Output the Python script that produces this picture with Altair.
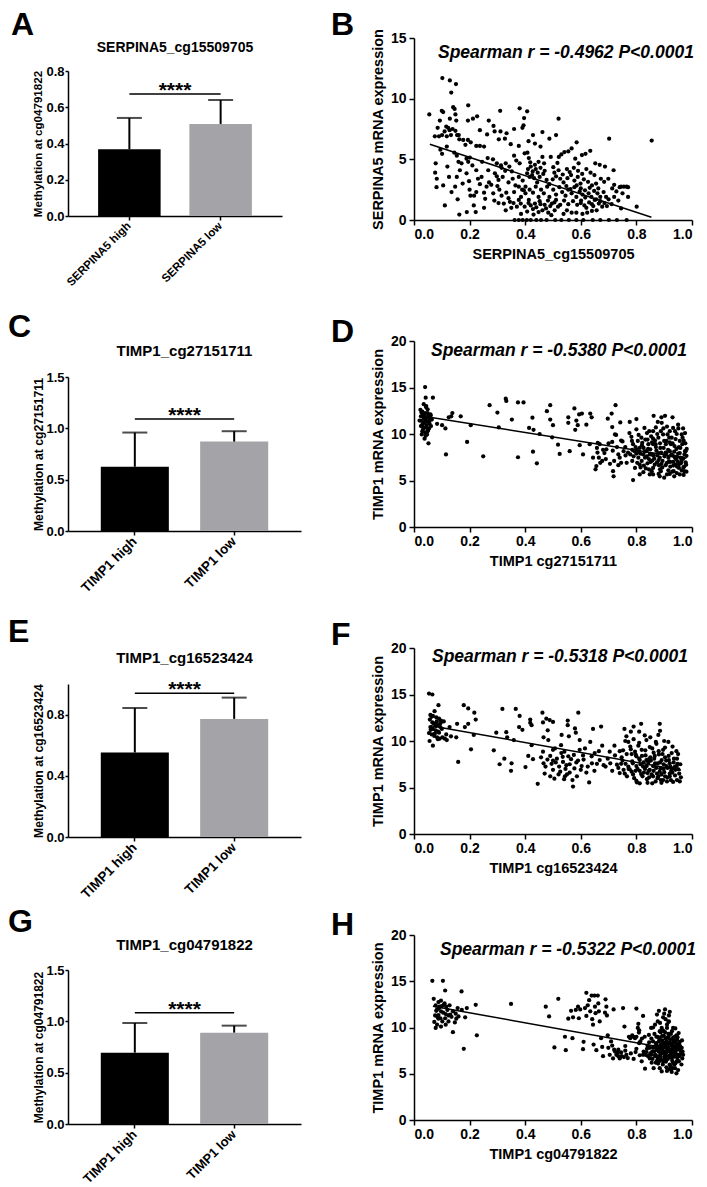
import altair as alt
import pandas as pd

FONT = "Liberation Sans"

# ---------------- bar panels (A, C, E, G) ----------------
A_cats = ["SERPINA5 high", "SERPINA5 low"]
A_means = [0.368, 0.508]
A_upper = [0.541, 0.640]
A_sig = 0.673
A_ticks = [0.0, 0.2, 0.4, 0.6, 0.8]

C_cats = ["TIMP1 high", "TIMP1 low"]
C_means = [0.626, 0.871]
C_upper = [0.959, 0.972]
C_sig = 1.092
C_ticks = [0.0, 0.5, 1.0, 1.5]

E_cats = ["TIMP1 high", "TIMP1 low"]
E_means = [0.552, 0.772]
E_upper = [0.843, 0.911]
E_sig = 0.939
E_ticks = [0.0, 0.2, 0.4, 0.6, 0.8, 1.0]

G_cats = ["TIMP1 high", "TIMP1 low"]
G_means = [0.695, 0.890]
G_upper = [0.984, 0.958]
G_sig = 1.084
G_ticks = [0.0, 0.5, 1.0, 1.5]

BAR_COLORS = ["#000000", "#a4a4a8"]

# ---------------- scatter panels (B, D, F, H) ----------------
B_points = [
    (0.102, 11.7), (0.129, 11.5), (0.151, 11.2), (0.134, 10.5), (0.055, 8.7), (0.100, 9.0), (0.105, 8.9),
    (0.195, 9.45), (0.141, 9.3), (0.146, 9.15), (0.310, 9.0), (0.380, 9.2), (0.407, 8.96), (0.396, 8.4),
    (0.520, 8.35), (0.093, 8.2), (0.129, 8.35), (0.194, 8.2), (0.212, 8.35), (0.227, 8.55), (0.269, 8.2),
    (0.286, 7.75), (0.149, 8.7), (0.152, 8.2), (0.085, 7.6), (0.116, 7.7), (0.123, 7.6), (0.128, 7.4),
    (0.139, 7.5), (0.110, 7.3), (0.149, 7.35), (0.090, 6.9), (0.075, 6.9), (0.101, 7.0), (0.118, 6.9),
    (0.133, 7.0), (0.155, 7.0), (0.161, 7.0), (0.237, 7.4), (0.263, 7.05), (0.290, 7.3), (0.311, 7.3),
    (0.333, 7.15), (0.360, 7.5), (0.390, 7.6), (0.394, 7.8), (0.428, 7.0), (0.462, 7.25), (0.511, 7.0),
    (0.487, 6.7), (0.585, 6.4), (0.702, 6.7), (0.855, 6.55), (0.163, 6.65), (0.177, 6.6), (0.194, 6.6),
    (0.204, 6.4), (0.185, 6.2), (0.224, 6.1), (0.237, 6.1), (0.252, 6.05), (0.305, 6.65), (0.327, 6.7),
    (0.348, 6.25), (0.377, 6.1), (0.412, 6.5), (0.435, 6.3), (0.455, 6.05), (0.095, 5.8), (0.101, 5.45),
    (0.118, 6.05), (0.145, 5.55), (0.154, 5.3), (0.189, 5.05), (0.195, 4.8), (0.201, 5.15), (0.160, 4.8),
    (0.171, 4.67), (0.078, 4.67), (0.265, 5.1), (0.284, 5.0), (0.298, 4.67), (0.313, 4.5), (0.330, 4.67),
    (0.343, 4.4), (0.360, 5.3), (0.368, 4.9), (0.380, 4.67), (0.398, 5.5), (0.408, 5.55), (0.413, 5.1),
    (0.418, 4.75), (0.420, 4.4), (0.427, 4.0), (0.438, 4.2), (0.448, 4.8), (0.462, 5.2), (0.468, 4.67),
    (0.492, 5.2), (0.501, 4.35), (0.516, 4.7), (0.521, 5.2), (0.530, 5.4), (0.541, 5.6), (0.555, 5.65),
    (0.567, 5.9), (0.580, 5.05), (0.592, 4.67), (0.604, 5.35), (0.617, 5.45), (0.634, 5.7), (0.652, 4.67),
    (0.668, 4.55), (0.649, 3.7), (0.076, 3.9), (0.082, 3.4), (0.081, 2.7), (0.105, 2.85), (0.148, 2.75),
    (0.126, 3.55), (0.154, 3.55), (0.165, 4.1), (0.189, 3.85), (0.198, 3.2), (0.200, 2.5), (0.203, 2.0),
    (0.216, 2.0), (0.224, 2.3), (0.157, 1.7), (0.111, 1.2), (0.163, 0.45), (0.190, 0.65), (0.222, 0.65),
    (0.215, 1.2), (0.252, 1.0), (0.256, 1.75), (0.252, 2.25), (0.261, 2.75), (0.278, 2.9), (0.298, 3.6),
    (0.319, 3.55), (0.289, 1.6), (0.304, 1.4), (0.323, 1.35), (0.340, 1.8), (0.307, 2.5), (0.332, 2.25),
    (0.340, 3.1), (0.355, 3.4), (0.365, 2.85), (0.350, 1.0), (0.358, 1.4), (0.377, 1.65), (0.385, 1.9),
    (0.401, 2.2), (0.398, 1.1), (0.407, 0.7), (0.420, 1.2), (0.428, 0.9), (0.448, 0.65), (0.462, 0.8),
    (0.483, 0.6), (0.494, 0.4), (0.506, 0.8), (0.518, 1.1), (0.538, 0.5), (0.550, 0.8), (0.567, 0.6),
    (0.584, 0.6), (0.606, 0.5), (0.623, 0.6), (0.640, 0.75), (0.657, 0.8), (0.677, 1.1), (0.694, 1.15),
    (0.711, 1.3), (0.745, 0.95), (0.801, 1.1),
    (0.362, 0.0), (0.377, 0.0), (0.391, 0.0), (0.406, 0.0), (0.420, 0.0), (0.440, 0.0), (0.457, 0.0),
    (0.477, 0.0), (0.508, 0.0), (0.530, 0.0), (0.557, 0.0), (0.584, 0.0), (0.609, 0.0), (0.643, 0.0),
    (0.670, 0.0), (0.701, 0.0), (0.730, 0.0), (0.765, 0.0),
    (0.377, 3.55), (0.391, 3.25), (0.407, 3.85), (0.416, 3.55), (0.432, 3.45), (0.443, 3.1), (0.452, 3.55),
    (0.465, 3.8), (0.477, 3.3), (0.487, 2.95), (0.499, 3.35), (0.511, 3.6), (0.526, 3.4), (0.538, 3.1),
    (0.552, 3.45), (0.565, 3.7), (0.577, 3.25), (0.589, 3.55), (0.599, 3.0), (0.611, 3.35), (0.626, 3.15),
    (0.640, 2.85), (0.655, 3.0), (0.672, 3.4), (0.684, 3.15), (0.699, 3.4), (0.713, 2.6), (0.728, 2.35),
    (0.745, 2.75), (0.755, 2.75), (0.765, 2.75), (0.377, 2.75), (0.389, 2.5), (0.401, 2.75), (0.416, 2.5),
    (0.428, 2.25), (0.438, 2.75), (0.448, 1.9), (0.457, 2.5), (0.467, 2.2), (0.479, 2.75), (0.487, 1.9),
    (0.501, 2.5), (0.511, 2.1), (0.523, 2.7), (0.533, 2.3), (0.545, 2.0), (0.555, 2.5), (0.567, 2.2),
    (0.577, 2.7), (0.584, 1.9), (0.596, 2.35), (0.606, 2.1), (0.616, 1.85), (0.628, 2.2), (0.638, 1.9),
    (0.650, 1.65), (0.660, 2.2), (0.670, 1.9), (0.682, 2.3), (0.691, 1.9), (0.384, 1.35), (0.413, 1.65),
    (0.435, 1.35), (0.452, 1.55), (0.470, 1.25), (0.482, 1.6), (0.496, 1.35), (0.511, 1.65), (0.526, 1.25),
    (0.540, 1.6), (0.555, 1.3), (0.572, 1.55), (0.587, 1.25), (0.601, 1.6), (0.613, 1.2), (0.630, 1.45),
    (0.645, 1.15), (0.665, 1.35), (0.267, 4.1), (0.291, 3.85), (0.328, 4.05), (0.304, 3.3), (0.352, 4.0),
    (0.243, 3.55), (0.224, 4.1), (0.237, 2.95), (0.687, 4.4), (0.718, 4.1),
    (0.410, 4.2), (0.425, 3.7), (0.435, 4.55), (0.445, 3.9), (0.455, 4.3), (0.470, 4.05), (0.505, 3.9),
    (0.520, 4.1), (0.535, 3.75), (0.550, 4.2), (0.560, 3.95), (0.575, 4.3), (0.590, 4.05), (0.605, 3.8),
    (0.620, 4.2), (0.635, 3.9), (0.548, 2.8), (0.563, 2.55), (0.585, 2.85), (0.600, 2.6), (0.615, 2.45),
    (0.632, 2.65), (0.648, 2.4), (0.663, 2.6), (0.600, 1.4), (0.620, 1.0), (0.640, 1.3), (0.655, 1.7),
    (0.670, 1.55), (0.685, 1.4), (0.700, 1.7), (0.720, 1.9), (0.315, 2.0), (0.330, 0.8), (0.345, 1.5),
    (0.360, 2.3), (0.370, 1.1), (0.385, 0.5), (0.395, 2.45), (0.412, 1.4), (0.430, 0.45), (0.440, 1.05),
    (0.455, 1.3), (0.475, 0.95), (0.490, 1.15), (0.505, 1.45), (0.120, 4.4), (0.135, 2.3), (0.175, 3.0),
    (0.210, 4.5), (0.230, 3.4), (0.245, 4.8), (0.270, 3.1), (0.285, 2.2), (0.300, 2.8), (0.315, 4.3),
    (0.720, 2.9), (0.735, 1.6), (0.750, 2.2), (0.770, 1.9), (0.740, 2.7), (0.770, 2.7),
]
B_line_x = [0.057, 0.854]
B_line_y = [6.25, 0.22]

D_points = [
    (0.040, 15.05), (0.042, 13.9), (0.068, 13.9), (0.035, 13.2), (0.044, 13.0), (0.023, 12.6), (0.030, 12.4),
    (0.040, 12.25), (0.049, 12.25), (0.059, 12.1), (0.025, 11.9), (0.035, 11.75), (0.044, 11.7), (0.054, 11.8),
    (0.064, 11.55), (0.028, 11.4), (0.037, 11.2), (0.047, 11.3), (0.056, 11.1), (0.025, 10.85), (0.035, 10.65),
    (0.044, 10.75), (0.054, 10.6), (0.030, 10.3), (0.040, 10.15), (0.049, 10.3), (0.028, 9.95), (0.042, 9.8),
    (0.038, 9.5), (0.052, 9.0), (0.032, 12.1), (0.049, 12.65), (0.020, 11.45), (0.061, 10.85), (0.047, 9.95),
    (0.030, 11.0), (0.036, 12.0), (0.041, 11.4), (0.045, 10.9), (0.050, 11.9), (0.055, 11.4), (0.060, 12.0),
    (0.033, 10.5), (0.043, 12.9), (0.050, 10.4), (0.038, 11.7), (0.027, 12.3),
    (0.083, 11.1), (0.101, 10.95), (0.113, 10.6), (0.125, 11.8), (0.138, 12.25), (0.134, 11.9), (0.115, 7.8),
    (0.168, 11.9), (0.191, 9.15), (0.204, 10.95), (0.249, 7.6), (0.272, 13.1), (0.300, 12.3), (0.305, 10.7),
    (0.330, 13.8), (0.332, 13.55), (0.352, 11.55), (0.374, 13.4), (0.394, 13.4), (0.374, 7.5), (0.414, 10.65),
    (0.426, 11.75), (0.430, 10.45), (0.428, 8.1), (0.442, 6.85), (0.452, 10.0), (0.478, 12.45), (0.490, 13.1),
    (0.490, 11.55), (0.500, 10.95), (0.497, 9.65), (0.518, 8.85), (0.524, 7.85), (0.555, 11.8), (0.555, 11.2),
    (0.560, 8.15), (0.577, 12.75), (0.584, 11.45), (0.589, 10.95), (0.580, 10.45), (0.594, 12.1), (0.604, 12.2),
    (0.596, 8.8), (0.608, 7.8), (0.620, 11.0), (0.634, 12.2), (0.639, 11.8), (0.632, 8.9), (0.644, 7.45),
    (0.661, 9.05), (0.668, 8.9), (0.658, 8.5), (0.656, 6.55), (0.653, 6.2), (0.665, 7.45), (0.677, 7.1),
    (0.685, 7.95), (0.692, 8.35), (0.697, 11.65), (0.711, 12.2), (0.713, 10.75), (0.713, 9.15), (0.716, 6.0),
    (0.718, 5.45), (0.725, 13.1), (0.723, 9.95), (0.727, 9.9), (0.735, 6.65), (0.742, 11.25), (0.745, 9.3),
    (0.740, 7.45), (0.754, 8.15), (0.761, 7.7),
    (0.660, 8.0), (0.670, 6.9), (0.680, 8.3), (0.690, 7.3), (0.700, 9.0), (0.705, 6.8), (0.715, 8.2),
    (0.720, 7.1), (0.730, 8.6), (0.735, 7.8), (0.745, 6.9), (0.750, 9.2), (0.760, 8.6), (0.765, 6.9),
    (0.770, 8.0), (0.775, 10.1),
    (0.776, 11.3), (0.784, 9.25), (0.788, 5.05), (0.800, 11.6), (0.800, 10.5), (0.805, 9.25), (0.812, 8.5),
    (0.818, 9.6), (0.824, 7.8), (0.829, 10.65), (0.834, 6.3), (0.838, 10.1), (0.843, 8.9), (0.848, 7.8),
    (0.853, 9.75), (0.857, 7.15), (0.862, 11.95), (0.867, 9.3), (0.872, 8.2), (0.877, 11.3), (0.881, 6.65),
    (0.886, 8.5), (0.891, 11.2), (0.896, 9.95), (0.900, 9.25), (0.903, 11.95), (0.908, 7.95), (0.912, 9.95),
    (0.917, 7.05), (0.920, 10.3), (0.924, 8.9), (0.929, 5.95), (0.932, 10.65), (0.936, 8.1), (0.941, 9.45),
    (0.946, 6.5), (0.951, 10.6), (0.953, 8.6), (0.958, 7.45), (0.963, 6.1), (0.968, 10.6), (0.970, 9.3),
    (0.975, 8.15), (0.977, 6.95), (0.980, 5.95),
    (0.778, 7.8), (0.785, 7.1), (0.793, 8.15), (0.795, 6.35), (0.807, 7.45), (0.812, 6.7), (0.819, 7.1),
    (0.826, 8.5), (0.831, 7.45), (0.836, 8.15), (0.840, 6.85), (0.845, 6.2), (0.850, 8.35), (0.855, 7.8),
    (0.860, 6.35), (0.864, 7.35), (0.869, 8.9), (0.874, 6.95), (0.879, 7.95), (0.884, 7.45), (0.888, 6.0),
    (0.894, 7.1), (0.898, 8.5), (0.903, 7.8), (0.905, 6.65), (0.910, 5.65), (0.915, 7.45), (0.920, 8.15),
    (0.922, 6.5), (0.927, 7.8), (0.932, 7.0), (0.934, 6.0), (0.939, 7.45), (0.944, 8.4), (0.946, 7.55),
    (0.948, 7.05), (0.953, 6.35), (0.956, 7.95), (0.960, 6.85), (0.965, 8.9), (0.968, 7.35), (0.972, 6.5),
    (0.977, 8.15), (0.980, 7.65), (0.788, 8.9), (0.800, 8.35), (0.809, 8.1), (0.821, 9.05), (0.840, 9.4),
    (0.860, 8.9), (0.879, 9.6), (0.888, 10.3), (0.908, 9.25), (0.927, 9.6), (0.939, 10.3), (0.956, 9.25),
    (0.963, 9.95), (0.812, 5.65), (0.848, 5.65), (0.884, 5.45), (0.920, 5.7), (0.956, 5.65), (0.860, 5.65),
    (0.900, 5.3), (0.936, 5.45), (0.972, 6.0),
    (0.782, 9.7), (0.790, 7.6), (0.797, 8.6), (0.803, 6.9), (0.808, 9.9), (0.814, 7.9), (0.820, 8.8),
    (0.827, 6.6), (0.832, 9.4), (0.837, 7.6), (0.842, 8.4), (0.846, 10.3), (0.851, 7.0), (0.856, 9.1),
    (0.861, 7.7), (0.866, 6.7), (0.870, 8.6), (0.875, 10.0), (0.880, 7.2), (0.885, 9.0), (0.889, 8.0),
    (0.893, 6.4), (0.897, 10.6), (0.901, 7.6), (0.906, 8.9), (0.910, 6.9), (0.914, 8.3), (0.918, 9.6),
    (0.921, 7.0), (0.925, 7.7), (0.930, 9.0), (0.933, 6.6), (0.937, 8.7), (0.942, 7.3), (0.945, 10.0),
    (0.950, 7.9), (0.954, 6.8), (0.958, 8.5), (0.962, 7.1), (0.966, 9.6), (0.969, 6.4), (0.973, 7.8),
    (0.976, 9.0), (0.979, 6.7), (0.981, 8.4), (0.785, 8.3), (0.800, 7.9), (0.815, 6.4), (0.830, 8.1),
    (0.845, 7.3), (0.860, 9.5), (0.875, 7.7), (0.890, 6.8), (0.905, 8.0), (0.920, 9.1), (0.935, 7.6),
    (0.950, 6.6), (0.965, 7.4), (0.975, 10.1), (0.825, 5.9), (0.855, 6.0), (0.885, 6.2), (0.915, 6.1),
    (0.945, 5.8), (0.970, 5.6), (0.880, 5.7), (0.940, 6.7), (0.910, 10.8), (0.870, 10.7), (0.950, 11.0),
    (0.930, 11.8), (0.890, 11.8), (0.860, 10.3),
]
D_line_x = [0.040, 0.980]
D_line_y = [11.88, 7.39]

F_points = [
    (0.054, 15.1), (0.066, 15.0), (0.088, 13.85), (0.074, 13.2), (0.059, 12.8), (0.068, 12.7), (0.080, 12.55),
    (0.090, 12.4), (0.097, 12.2), (0.107, 12.1), (0.057, 12.3), (0.066, 12.0), (0.076, 11.85), (0.085, 11.7),
    (0.095, 11.5), (0.059, 11.5), (0.068, 11.3), (0.078, 11.15), (0.087, 11.0), (0.054, 10.85), (0.064, 10.7),
    (0.073, 10.55), (0.083, 10.4), (0.092, 10.25), (0.102, 10.4), (0.111, 10.25), (0.116, 10.7), (0.056, 10.0),
    (0.068, 9.5), (0.128, 11.5), (0.133, 10.5), (0.152, 10.4), (0.118, 10.1),
    (0.060, 11.2), (0.070, 11.9), (0.075, 10.8), (0.082, 12.1), (0.090, 10.9), (0.100, 11.3), (0.063, 12.6),
    (0.086, 10.2), (0.095, 11.9), (0.078, 11.6),
    (0.155, 11.85), (0.159, 7.75), (0.179, 13.85), (0.195, 13.5), (0.183, 11.5), (0.195, 11.85), (0.205, 9.1),
    (0.215, 10.65), (0.217, 13.05), (0.222, 12.3), (0.287, 9.0), (0.296, 10.9), (0.308, 7.5), (0.318, 13.45),
    (0.325, 8.1), (0.332, 10.95), (0.335, 10.4), (0.349, 6.8), (0.351, 7.6), (0.359, 10.1), (0.366, 13.45),
    (0.380, 12.7), (0.378, 11.5), (0.390, 11.2), (0.401, 7.2), (0.411, 8.4), (0.418, 12.3), (0.418, 11.95),
    (0.423, 11.7), (0.423, 9.55), (0.428, 8.05), (0.445, 5.4), (0.457, 8.25), (0.462, 13.05), (0.464, 12.0),
    (0.466, 10.4), (0.464, 8.85), (0.466, 7.6), (0.473, 7.25), (0.476, 12.4), (0.481, 11.15), (0.483, 10.1),
    (0.488, 12.25), (0.490, 8.4), (0.495, 7.55), (0.500, 12.05), (0.500, 9.05), (0.507, 9.2), (0.500, 6.9),
    (0.505, 5.95), (0.514, 8.1), (0.522, 7.25), (0.526, 6.7), (0.529, 9.55), (0.531, 10.65), (0.536, 7.75),
    (0.541, 8.85), (0.543, 6.2), (0.548, 7.4), (0.553, 11.7), (0.553, 12.2), (0.555, 8.35), (0.557, 10.5),
    (0.560, 6.6), (0.565, 8.05), (0.570, 5.8), (0.572, 5.1), (0.577, 7.05), (0.579, 11.35), (0.582, 10.9),
    (0.584, 7.7), (0.586, 6.2), (0.591, 13.05), (0.596, 10.1), (0.596, 9.05), (0.603, 7.3), (0.608, 8.45),
    (0.620, 6.6), (0.625, 7.25), (0.630, 5.55), (0.634, 9.9), (0.639, 8.35), (0.644, 11.3), (0.649, 6.8),
    (0.658, 7.55), (0.668, 7.95), (0.673, 11.55), (0.677, 9.5), (0.682, 7.4), (0.689, 7.25), (0.697, 8.1),
    (0.704, 8.85), (0.706, 7.6), (0.713, 6.8), (0.721, 9.5), (0.723, 8.45), (0.730, 7.45), (0.735, 7.1),
    (0.740, 6.55), (0.747, 8.25), (0.752, 9.0), (0.757, 11.3), (0.761, 7.55), (0.764, 10.5), (0.766, 6.2),
    (0.771, 9.9), (0.776, 6.95), (0.778, 9.4), (0.783, 8.6), (0.785, 7.8), (0.788, 6.4), (0.790, 11.55),
    (0.795, 8.85), (0.800, 7.3), (0.802, 5.55), (0.807, 9.5), (0.810, 8.1), (0.812, 6.8), (0.817, 11.85),
    (0.819, 9.05), (0.822, 6.2), (0.826, 7.7), (0.831, 7.0), (0.833, 8.45), (0.836, 10.1), (0.838, 5.9),
    (0.843, 7.7), (0.845, 6.8), (0.848, 9.35), (0.850, 8.25), (0.855, 6.4), (0.857, 5.45), (0.860, 7.3),
    (0.862, 8.75), (0.867, 7.6), (0.872, 9.7), (0.874, 6.5), (0.879, 10.65), (0.881, 8.55), (0.884, 11.85),
    (0.886, 7.05), (0.888, 5.8), (0.891, 7.95), (0.896, 9.05), (0.900, 6.65), (0.903, 8.25), (0.908, 7.3),
    (0.910, 5.65), (0.915, 9.9), (0.917, 7.95), (0.920, 6.5), (0.924, 5.8), (0.927, 8.7), (0.932, 7.05),
    (0.934, 7.7), (0.939, 6.3), (0.944, 8.9), (0.946, 8.1), (0.951, 6.95), (0.956, 5.65), (0.960, 6.1),
    (0.812, 7.95), (0.800, 8.35), (0.824, 7.25), (0.836, 7.95), (0.848, 6.9), (0.864, 8.1), (0.877, 7.6),
    (0.884, 6.7), (0.898, 7.5), (0.912, 7.1), (0.929, 6.6), (0.939, 7.25), (0.948, 7.55), (0.922, 7.25),
    (0.903, 6.2), (0.879, 6.2), (0.860, 6.2), (0.840, 6.55), (0.817, 6.45), (0.797, 6.8), (0.783, 6.7),
    (0.771, 7.25), (0.754, 6.9), (0.745, 7.55), (0.812, 5.45), (0.869, 5.65), (0.896, 5.8), (0.932, 5.6),
    (0.946, 5.8),
    (0.740, 8.9), (0.750, 7.9), (0.758, 6.5), (0.765, 8.6), (0.772, 7.0), (0.780, 9.1), (0.787, 7.6),
    (0.792, 6.0), (0.798, 8.5), (0.804, 7.0), (0.810, 9.8), (0.815, 7.5), (0.820, 8.4), (0.827, 6.6),
    (0.832, 9.0), (0.837, 7.3), (0.842, 8.0), (0.846, 6.1), (0.852, 7.9), (0.857, 9.2), (0.862, 6.8),
    (0.866, 8.4), (0.871, 7.1), (0.876, 6.0), (0.880, 8.9), (0.885, 7.7), (0.890, 6.4), (0.894, 8.6),
    (0.898, 7.0), (0.903, 9.3), (0.907, 7.9), (0.911, 6.1), (0.916, 8.4), (0.920, 7.6), (0.925, 6.8),
    (0.930, 9.4), (0.935, 8.1), (0.940, 6.9), (0.945, 7.3), (0.950, 8.6), (0.954, 6.5), (0.958, 7.5),
    (0.790, 10.2), (0.850, 10.4), (0.900, 10.0), (0.870, 9.9), (0.830, 10.6), (0.800, 5.7), (0.840, 5.5),
    (0.890, 5.5), (0.920, 6.2), (0.760, 10.0), (0.780, 11.0), (0.810, 11.0), (0.885, 11.1),
    (0.470, 6.5), (0.480, 8.0), (0.510, 7.7), (0.520, 6.4), (0.535, 8.3), (0.545, 7.0), (0.550, 6.4),
    (0.560, 7.5), (0.575, 8.5), (0.590, 7.9), (0.600, 6.9), (0.610, 8.0), (0.615, 9.2), (0.640, 7.6),
    (0.650, 8.7), (0.665, 8.9), (0.530, 8.7), (0.500, 7.9), (0.490, 6.2), (0.540, 5.9),
]
F_line_x = [0.060, 0.960]
F_line_y = [11.65, 6.85]

H_points = [
    (0.066, 15.05), (0.104, 15.05), (0.112, 14.0), (0.171, 13.9), (0.071, 13.1), (0.088, 12.75), (0.097, 12.9),
    (0.078, 12.4), (0.092, 12.25), (0.107, 12.45), (0.116, 12.25), (0.128, 12.4), (0.083, 11.95), (0.097, 11.75),
    (0.114, 11.45), (0.124, 11.3), (0.140, 11.75), (0.157, 12.1), (0.172, 11.9), (0.190, 12.1), (0.222, 12.45),
    (0.076, 11.3), (0.088, 10.95), (0.102, 10.65), (0.112, 11.0), (0.135, 11.15), (0.152, 10.95), (0.184, 11.1),
    (0.073, 10.6), (0.083, 10.3), (0.097, 10.1), (0.114, 10.3), (0.147, 10.55), (0.088, 11.35), (0.140, 9.5),
    (0.226, 9.15), (0.179, 7.7), (0.078, 9.95), (0.124, 10.65),
    (0.080, 11.8), (0.090, 12.1), (0.095, 11.0), (0.105, 11.6), (0.110, 12.6), (0.120, 11.9), (0.100, 12.3),
    (0.130, 11.4), (0.150, 11.5), (0.160, 11.2), (0.085, 11.1),
    (0.349, 12.55), (0.474, 12.25), (0.486, 11.2), (0.519, 13.1), (0.505, 7.85), (0.546, 7.55), (0.543, 9.0),
    (0.570, 8.85), (0.555, 10.95), (0.565, 11.8), (0.572, 11.1), (0.582, 11.9), (0.590, 12.25), (0.593, 11.0),
    (0.598, 11.95), (0.608, 7.65), (0.610, 8.45), (0.615, 12.1), (0.620, 13.75), (0.620, 11.25), (0.625, 12.4),
    (0.630, 12.95), (0.634, 11.75), (0.639, 13.45), (0.641, 10.9), (0.644, 10.3), (0.646, 8.15), (0.649, 13.45),
    (0.651, 12.25), (0.653, 11.55), (0.656, 7.55), (0.661, 13.45), (0.663, 12.6), (0.665, 11.75), (0.668, 10.65),
    (0.673, 8.85), (0.677, 7.9), (0.680, 6.9), (0.687, 11.6), (0.689, 13.05), (0.692, 12.25), (0.694, 11.3),
    (0.697, 9.15), (0.699, 7.8), (0.704, 7.05), (0.709, 8.5), (0.713, 8.05), (0.716, 6.65), (0.718, 11.95),
    (0.723, 7.4), (0.728, 7.05), (0.733, 7.3), (0.740, 6.65), (0.747, 6.9), (0.752, 12.1), (0.757, 10.1),
    (0.764, 7.05), (0.769, 6.7), (0.773, 9.0), (0.778, 8.85), (0.785, 9.15), (0.795, 8.85), (0.797, 7.35),
    (0.800, 12.05), (0.805, 9.95), (0.807, 10.4), (0.809, 9.45), (0.812, 7.0), (0.814, 8.5), (0.819, 6.35),
    (0.824, 11.25), (0.826, 7.4), (0.831, 5.55), (0.833, 7.05),
    (0.720, 7.6), (0.735, 6.9), (0.745, 7.3), (0.755, 6.8), (0.760, 7.5), (0.780, 7.2), (0.790, 6.6),
    (0.800, 7.7), (0.810, 8.3), (0.820, 8.8), (0.790, 9.0), (0.800, 9.0), (0.810, 9.7), (0.830, 9.0),
    (0.760, 8.0), (0.735, 7.6),
    (0.840, 8.05), (0.845, 9.2), (0.848, 6.65), (0.853, 9.95), (0.855, 6.2), (0.857, 7.4), (0.860, 8.5),
    (0.862, 5.6), (0.867, 10.3), (0.867, 7.05), (0.869, 7.95), (0.872, 9.0), (0.874, 6.4), (0.874, 11.4),
    (0.877, 10.65), (0.879, 7.5), (0.881, 8.5), (0.881, 11.8), (0.884, 5.6), (0.884, 9.6), (0.886, 6.85),
    (0.888, 8.1), (0.891, 9.95), (0.891, 5.25), (0.893, 9.1), (0.896, 7.35), (0.896, 11.1), (0.898, 6.35),
    (0.900, 8.3), (0.903, 11.95), (0.903, 9.5), (0.905, 7.05), (0.908, 7.95), (0.908, 5.7), (0.910, 9.95),
    (0.912, 8.9), (0.912, 6.8), (0.915, 7.7), (0.917, 11.3), (0.917, 10.65), (0.920, 6.0), (0.920, 8.35),
    (0.922, 7.35), (0.924, 9.3), (0.927, 6.7), (0.927, 5.2), (0.929, 8.1), (0.932, 9.95), (0.934, 7.2),
    (0.936, 6.0), (0.939, 8.5), (0.941, 7.8), (0.944, 5.05), (0.946, 6.8), (0.948, 8.95), (0.951, 7.65),
    (0.953, 6.35), (0.956, 7.05), (0.960, 7.5), (0.965, 6.65),
    (0.860, 7.8), (0.864, 7.4), (0.872, 8.15), (0.877, 6.7), (0.884, 7.8), (0.888, 7.2), (0.893, 8.1),
    (0.898, 7.8), (0.903, 6.65), (0.908, 8.5), (0.912, 7.4), (0.917, 6.9), (0.922, 8.3), (0.927, 7.5),
    (0.932, 8.3), (0.936, 6.85), (0.941, 7.4), (0.946, 8.1), (0.951, 7.05), (0.956, 8.45), (0.896, 6.35),
    (0.908, 6.5), (0.920, 5.5), (0.932, 6.2), (0.939, 5.6), (0.884, 8.9), (0.896, 9.6), (0.915, 9.3),
    (0.932, 8.9), (0.944, 9.15), (0.953, 8.3), (0.963, 7.8), (0.968, 7.05), (0.848, 7.8), (0.853, 7.05),
    (0.836, 7.35), (0.824, 7.05),
    (0.838, 7.7), (0.842, 6.9), (0.846, 8.4), (0.850, 7.2), (0.854, 8.8), (0.858, 6.6), (0.862, 7.9),
    (0.865, 9.3), (0.868, 6.9), (0.871, 8.3), (0.873, 7.6), (0.876, 9.0), (0.878, 6.1), (0.880, 7.9),
    (0.882, 8.8), (0.885, 7.0), (0.887, 9.5), (0.889, 6.5), (0.891, 7.6), (0.893, 8.6), (0.895, 6.0),
    (0.897, 8.0), (0.899, 9.1), (0.901, 7.1), (0.903, 7.9), (0.905, 8.8), (0.906, 6.3), (0.908, 7.3),
    (0.910, 10.3), (0.911, 8.2), (0.913, 6.6), (0.914, 7.9), (0.916, 9.0), (0.918, 6.9), (0.919, 7.6),
    (0.921, 8.7), (0.923, 5.8), (0.924, 7.1), (0.926, 8.0), (0.928, 9.6), (0.929, 6.4), (0.931, 7.7),
    (0.933, 8.6), (0.935, 6.9), (0.937, 7.4), (0.938, 9.0), (0.940, 6.1), (0.942, 8.0), (0.944, 7.1),
    (0.946, 8.7), (0.948, 6.5), (0.950, 7.7), (0.952, 9.4), (0.954, 6.9), (0.957, 8.0), (0.960, 7.2),
    (0.962, 6.0), (0.964, 8.6), (0.966, 7.4), (0.870, 7.0), (0.880, 7.4), (0.890, 8.2), (0.900, 6.8),
    (0.910, 7.7), (0.920, 6.8), (0.930, 7.2), (0.940, 8.4), (0.950, 7.0), (0.900, 7.4), (0.915, 8.3),
    (0.925, 7.3), (0.935, 7.9), (0.945, 6.3), (0.955, 7.6), (0.885, 6.4), (0.895, 9.7), (0.905, 10.9),
    (0.915, 10.6), (0.900, 11.5), (0.920, 11.7), (0.885, 10.5), (0.860, 10.0), (0.870, 6.2), (0.910, 5.3),
    (0.930, 5.6), (0.950, 5.4), (0.940, 9.9),
]
H_line_x = [0.068, 0.950]
H_line_y = [12.3, 7.55]

X_TICKS = [0.0, 0.2, 0.4, 0.6, 0.8, 1.0]


def text_layer(txt, x, y, size, align="left", baseline="alphabetic", italic=False):
    return alt.Chart(pd.DataFrame({"t": [txt]})).mark_text(
        font=FONT, fontSize=size, fontWeight="bold", fontStyle="italic" if italic else "normal",
        align=align, baseline=baseline, color="black",
    ).encode(text="t:N", x=alt.value(x), y=alt.value(y))


def bar_panel(cats, means, upper, sig, ymax, ticks, W, Hview, rng, xoff, title, ytitle,
              letter, lx, ly, lab_fs, title_fs, ytitle_fs):
    df = pd.DataFrame({"cat": cats, "mean": means, "upper": upper})
    xs = alt.X("cat:N", sort=cats,
               scale=alt.Scale(domain=cats, paddingInner=0.315, paddingOuter=0.33),
               axis=alt.Axis(title=None, labelAngle=-45, labelAlign="right", labelBaseline="middle",
                             labelFontSize=lab_fs, labelPadding=4, tickSize=4, offset=xoff,
                             labelOverlap=False))
    ys = alt.Y("mean:Q",
               scale=alt.Scale(domain=[0, ymax], range=rng, nice=False, zero=True),
               axis=alt.Axis(title=ytitle, values=ticks, format=".1f", tickSize=3, labelPadding=1,
                             labelFontSize=13, titleFontSize=ytitle_fs, titleX=-30,
                             titleBaseline="middle"))
    bars = alt.Chart(df).mark_bar().encode(
        x=xs, y=ys,
        color=alt.Color("cat:N", scale=alt.Scale(domain=cats, range=BAR_COLORS), legend=None),
    )
    whisk = alt.Chart(df).mark_rule(color="black", strokeWidth=2).encode(
        x=alt.X("cat:N", sort=cats), y="mean:Q", y2="upper:Q")
    cap = alt.Chart(df).mark_tick(color="black", thickness=2, size=25).encode(
        x=alt.X("cat:N", sort=cats), y="upper:Q")
    sdf = pd.DataFrame({"cat": cats, "sig": [sig, sig]})
    sline = alt.Chart(sdf).mark_line(color="black", strokeWidth=1.5).encode(
        x=alt.X("cat:N", sort=cats), y="sig:Q")
    stars = alt.Chart(pd.DataFrame({"sig": [sig], "t": ["****"]})).mark_text(
        font=FONT, fontSize=21, fontWeight="bold", baseline="alphabetic", dy=3, color="black"
    ).encode(x=alt.value(W / 2), y="sig:Q", text="t:N")
    ttl = text_layer(title, W / 2, 10, title_fs, align="center", baseline="middle")
    let = text_layer(letter, lx, ly, 32)
    return alt.layer(bars, whisk, cap, sline, stars, ttl, let).properties(width=W, height=Hview)


def scatter_panel(points, lxs, lys, ymax, yticks, Haxis, Hview, xtitle, ytitle, stext, sx, sy,
                  letter, ly):
    df = pd.DataFrame(points, columns=["x", "y"])
    xs = alt.X("x:Q", scale=alt.Scale(domain=[0, 1], nice=False),
               axis=alt.Axis(title=xtitle, values=X_TICKS, format=".1f", tickSize=5, labelPadding=2,
                             labelFontSize=14, titleFontSize=14.5, titleY=34, titleBaseline="middle",
                             offset=Haxis - Hview))
    ys = alt.Y("y:Q", scale=alt.Scale(domain=[0, ymax], range=[Haxis, 0], nice=False),
               axis=alt.Axis(title=ytitle, values=yticks, format="d", tickSize=5, labelPadding=3,
                             labelFontSize=14, titleFontSize=14.5, titleX=-36,
                             titleBaseline="middle"))
    pts = alt.Chart(df).mark_circle(size=18, color="black", opacity=1).encode(x=xs, y=ys)
    ldf = pd.DataFrame({"x": lxs, "y": lys})
    line = alt.Chart(ldf).mark_line(color="black", strokeWidth=1.5).encode(x="x:Q", y="y:Q")
    st = text_layer(stext, sx, sy, 17.5, align="left", baseline="middle", italic=True)
    let = text_layer(letter, -83, ly, 32)
    return alt.layer(pts, line, st, let).properties(width=278, height=Hview)


# row view heights (extra room below rows 1-2 keeps row spacing uniform)
barA = bar_panel(A_cats, A_means, A_upper, A_sig, 0.8, A_ticks, 214, 202, [178, 33], -24,
                 "SERPINA5_cg15509705", "Methylation at cg04791822", "A", -57, -3.3, 11.5, 14, 11.6)
scatB = scatter_panel(B_points, B_line_x, B_line_y, 15, [0, 5, 10, 15], 182, 202,
                      "SERPINA5_cg15509705", "SERPINA5 mRNA expression",
                      "Spearman r = -0.4962 P<0.0001", 24, 15, "B", -3)

barC = bar_panel(C_cats, C_means, C_upper, C_sig, 1.5, C_ticks, 233, 206, [190, 36], -16,
                 "TIMP1_cg27151711", "Methylation at cg27151711", "C", -60, -4.3, 13.5, 15, 12.2)
scatD = scatter_panel(D_points, D_line_x, D_line_y, 20, [0, 5, 10, 15, 20], 186, 206,
                      "TIMP1 cg27151711", "TIMP1 mRNA expression",
                      "Spearman r = -0.5380 P<0.0001", 17, 10, "D", 0.7)

barE = bar_panel(E_cats, E_means, E_upper, E_sig, 1.0, E_ticks, 233, 186, [189, 36], 3,
                 "TIMP1_cg16523424", "Methylation at cg16523424", "E", -60, -6.3, 13.5, 15, 12.2)
scatF = scatter_panel(F_points, F_line_x, F_line_y, 20, [0, 5, 10, 15, 20], 186, 186,
                      "TIMP1 cg16523424", "TIMP1 mRNA expression",
                      "Spearman r = -0.5318 P<0.0001", 18, 9, "F", -3)

barG = bar_panel(G_cats, G_means, G_upper, G_sig, 1.5, G_ticks, 233, 185, [189, 35], 4,
                 "TIMP1_cg04791822", "Methylation at cg04791822", "G", -60, -3.3, 13.0, 15, 12.0)
scatH = scatter_panel(H_points, H_line_x, H_line_y, 20, [0, 5, 10, 15, 20], 185, 185,
                      "TIMP1 cg04791822", "TIMP1 mRNA expression",
                      "Spearman r = -0.5322 P<0.0001", 26, 15, "H", 0)

chart = alt.concat(
    barA, scatB, barC, scatD, barE, scatF, barG, scatH,
    columns=2, spacing={"row": 101, "column": 113}, bounds="flush", padding=0,
).configure_view(
    stroke=None
).configure_axis(
    domainColor="black", tickColor="black", labelColor="black", titleColor="black",
    labelFont=FONT, titleFont=FONT, labelFontWeight="bold", titleFontWeight="bold",
    grid=False, domainWidth=1.5, tickWidth=1.5,
)

chart.save("out.html", embed_options={"renderer": "svg", "actions": False})
